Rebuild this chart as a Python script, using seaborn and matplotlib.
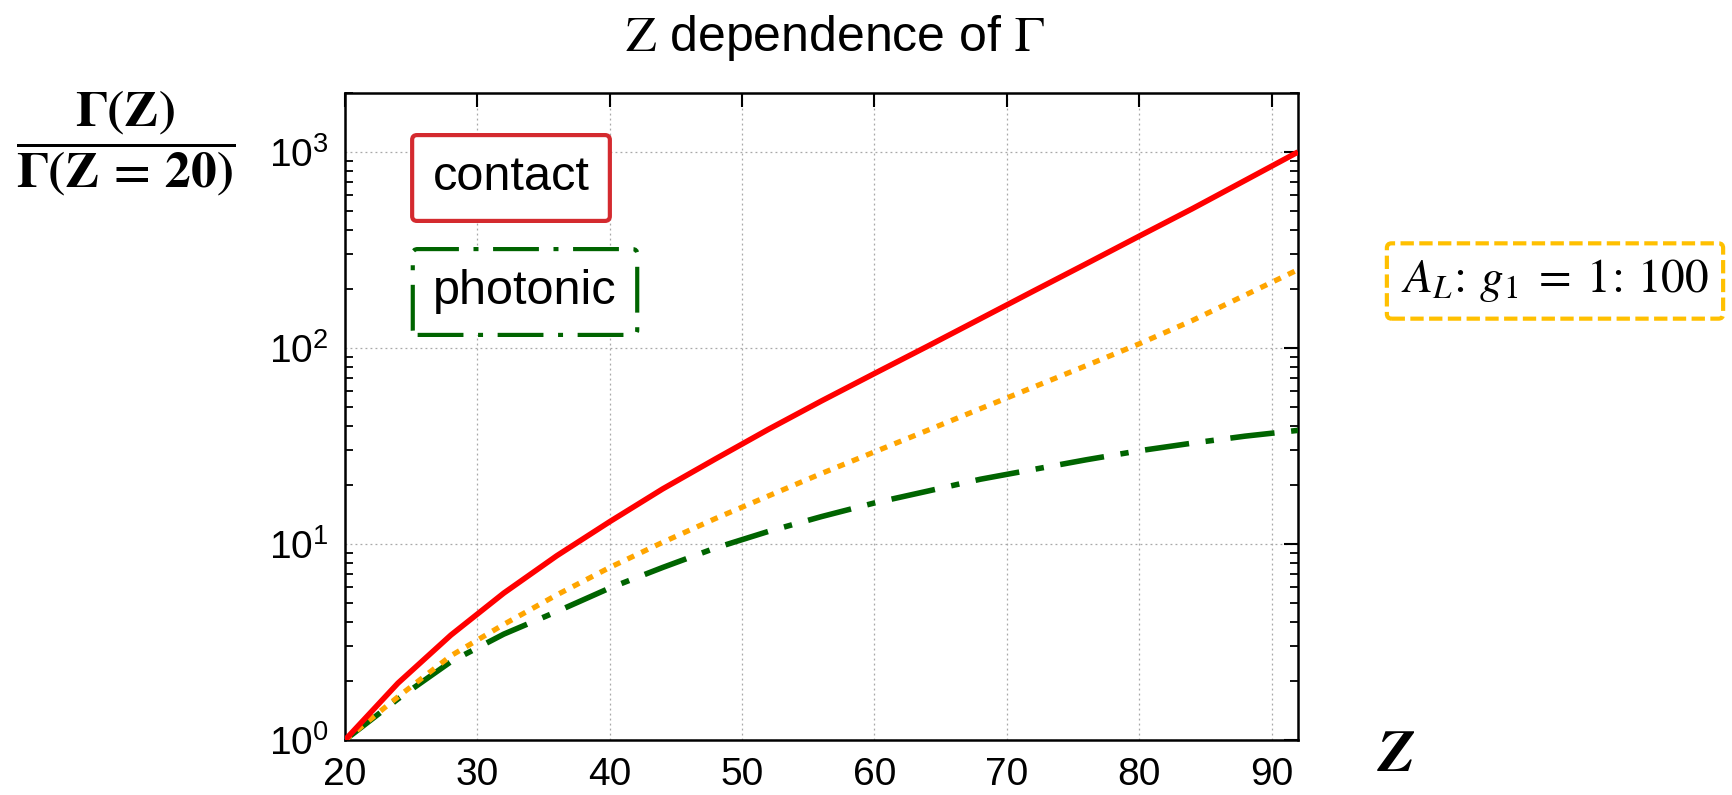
import numpy as np
import pandas as pd
import matplotlib
matplotlib.use("Agg")
import matplotlib.pyplot as plt
import seaborn as sns
from matplotlib.ticker import LogLocator, FixedLocator, NullFormatter

# ---- data ----
Z = [20, 24, 28, 32, 36, 40, 44, 48, 52, 56, 60, 64, 68, 72, 76, 80, 84, 88, 92]
contact = [1.0, 1.95, 3.43, 5.62, 8.71, 13.0, 19.1, 27.2, 38.5, 53.7, 74.1, 102, 141, 195, 269, 372, 513, 716, 1000]
ratio_AL_g1 = [1.0, 1.66, 2.69, 3.89, 5.50, 7.59, 10.2, 13.5, 17.6, 22.9, 29.5, 38.0, 49.0, 63.1, 81.3, 105, 138, 186, 251]
photonic = [1.0, 1.62, 2.51, 3.47, 4.52, 5.96, 7.59, 9.55, 11.6, 13.8, 16.2, 18.6, 21.4, 24.0, 26.9, 29.9, 32.7, 35.5, 38.0]

x_ticks = [20, 30, 40, 50, 60, 70, 80, 90]
title_text = r"$\mathrm{Z}$ dependence of $\Gamma$"
ylabel_text = r"$\dfrac{\mathbf{\Gamma(Z)}}{\mathbf{\Gamma(Z\,=\,20)}}$"
xlabel_text = "Z"
legend_contact = "contact"
legend_photonic = "photonic"
note_text = r"$A_L\!:\,g_1\;=\;1\!:\,100$"

# ---- style ----
sns.set_style("white")
plt.rcParams["font.family"] = ["Liberation Sans", "DejaVu Sans"]
plt.rcParams["mathtext.fontset"] = "stix"
for k in ["text.color", "axes.labelcolor", "xtick.color", "ytick.color"]:
    plt.rcParams[k] = "black"

W, H = 1733, 795
fig = plt.figure(figsize=(W / 100, H / 100), dpi=100)
ax = fig.add_axes([345 / W, 1 - 740 / H, (1298 - 345) / W, (740 - 93) / H])

df = pd.DataFrame({"Z": Z, "contact": contact, "ratio": ratio_AL_g1, "photonic": photonic})

sns.lineplot(data=df, x="Z", y="contact", ax=ax, color="#ff0000", linewidth=4.0,
             solid_capstyle="butt", zorder=5)
sns.lineplot(data=df, x="Z", y="ratio", ax=ax, color="#ffa500", linewidth=3.8,
             linestyle=(0, (1.4, 1.5)), dash_capstyle="butt", zorder=4)
sns.lineplot(data=df, x="Z", y="photonic", ax=ax, color="#006400", linewidth=4.0,
             linestyle=(0, (8.0, 3.0, 1.5, 3.0)), dash_capstyle="butt", zorder=3)

ax.set_yscale("log")
ax.set_xlim(20, 92)
ax.set_ylim(1, 2000)
ax.set_xlabel("")
ax.set_ylabel("")

ax.xaxis.set_major_locator(FixedLocator(x_ticks))
ax.set_xticklabels([str(t) for t in x_ticks])
ax.yaxis.set_major_locator(LogLocator(base=10, numticks=10))
ax.yaxis.set_minor_locator(LogLocator(base=10, subs=np.arange(2, 10), numticks=100))
ax.yaxis.set_minor_formatter(NullFormatter())

ax.tick_params(axis="both", which="major", direction="in", length=10, width=1.5,
               labelsize=28, top=True, right=True, pad=12, colors="black")
ax.tick_params(axis="y", which="minor", direction="in", length=6, width=1.3,
               left=True, right=True)
ax.tick_params(axis="x", which="minor", bottom=False, top=False)

for s in ax.spines.values():
    s.set_linewidth(1.8)
    s.set_color("black")

ax.grid(True, which="major", linestyle=(0, (1.5, 2.5)), color="#a8a8a8", linewidth=0.9)
ax.set_axisbelow(True)

# ---- texts ----
fig.text(835 / W, 1 - 38 / H, title_text, fontsize=36, ha="center", va="center")
fig.text(126 / W, 1 - 143 / H, ylabel_text, fontsize=37, ha="center", va="center")
fig.text(1396 / W, 1 - 756 / H, xlabel_text, fontsize=44, ha="center", va="center",
         family="STIXGeneral", fontweight="bold", fontstyle="italic")

fig.text(511 / W, 1 - 178 / H, legend_contact, fontsize=35, ha="center", va="center",
         bbox=dict(boxstyle="round,pad=0.42,rounding_size=0.1", facecolor="white",
                   edgecolor="#d42a2f", linewidth=3.0))
fig.text(525 / W, 1 - 292 / H, legend_photonic, fontsize=35, ha="center", va="center",
         bbox=dict(boxstyle="round,pad=0.42,rounding_size=0.1", facecolor="white",
                   edgecolor="#006400", linewidth=3.0,
                   linestyle=(0, (11, 3.5, 1.2, 3.5))))
fig.text(1555 / W, 1 - 281 / H, note_text, fontsize=34, ha="center", va="center",
         bbox=dict(boxstyle="round,pad=0.3,rounding_size=0.1", facecolor="white",
                   edgecolor="#ffc000", linewidth=3.0, linestyle=(0, (3.2, 1.3))))

fig.savefig("out.png", dpi=100, facecolor="white")
